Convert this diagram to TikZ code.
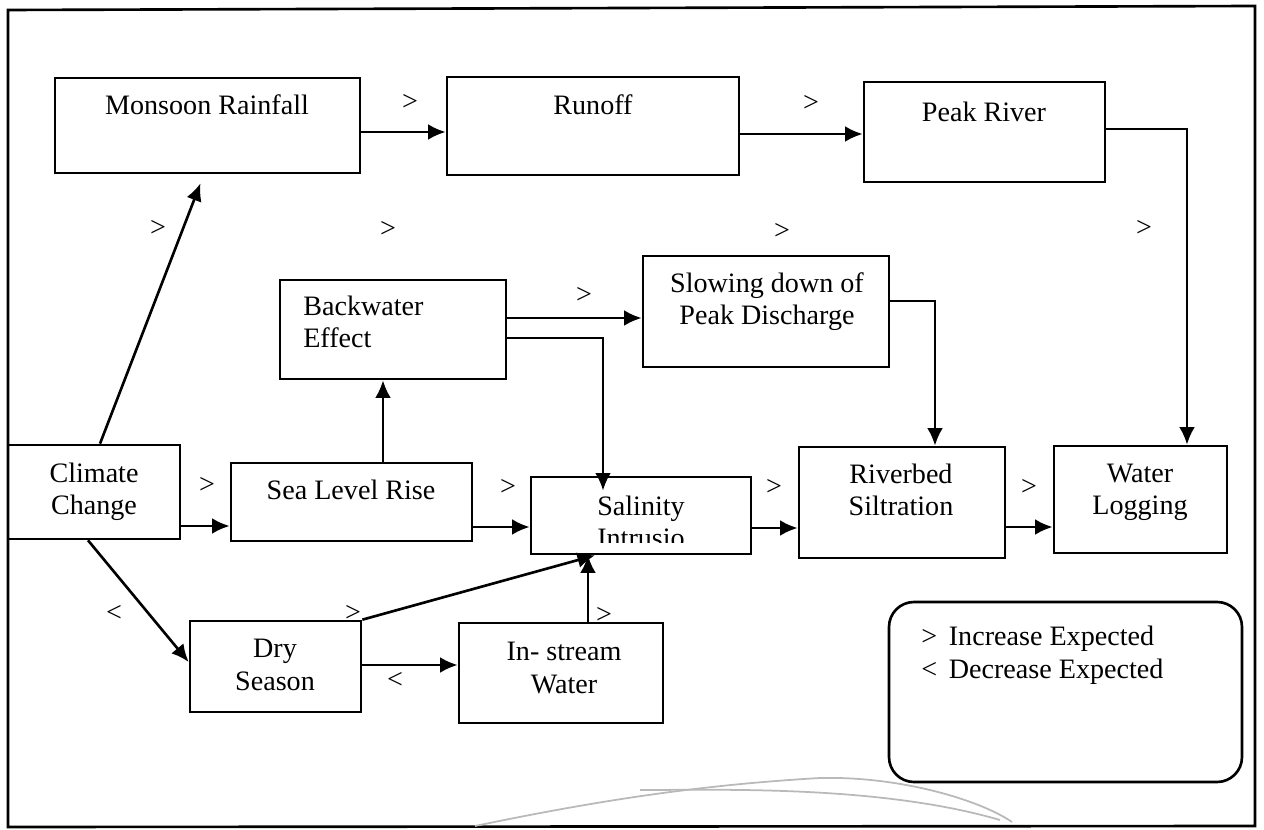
\documentclass[tikz,border=0pt]{standalone}
\usepackage{fontspec}
\setmainfont{Liberation Serif}
\usepackage{tikz}
\usetikzlibrary{arrows.meta,calc,fit}
\tikzset{>={Latex[length=10pt,width=9pt]}}

\begin{document}
\begin{tikzpicture}[x=0.02cm, y=-0.02cm, line width=1.5pt,
    box/.style = {draw, rectangle, inner sep=0pt},
    txt/.style = {font=\fontsize{16}{18.7}\selectfont, inner sep=0pt, align=center, anchor=base},
    sym/.style = {font=\fontsize{16}{18.7}\selectfont, inner sep=0pt}]
        \useasboundingbox (0,0) rectangle (1264,830);
        \draw (8,10) -- (1255,6) -- (1255,826) -- (8,827) -- cycle; %frame

        % boxes
        \node[box, fit={(55,78) (360,173)}] (rain) {};
        \node[box, fit={(447,77) (739,175)}] (runoff) {};
        \node[box, fit={(864,82) (1105,182)}] (peak) {};
        \node[box, fit={(280,280) (506,379)}] (back) {};
        \node[box, fit={(643,256) (889,367)}] (slow) {};
        \node[box, fit={(8,445) (180,539)}] (clim) {};
        \node[box, fit={(231,463) (472,541)}] (sea) {};
        \node[box, fit={(531,477) (751,554)}] (sal) {};
        \node[box, fit={(799,447) (1005,558)}] (bed) {};
        \node[box, fit={(1054,446) (1227,553)}] (log) {};
        \node[box, fit={(190,621) (361,712)}] (dry) {};
        \node[box, fit={(459,623) (663,723)}] (strm) {};
        \node[box, rounded corners=0.5cm, fit={(889,602) (1242,782)}] (key) {};

        % texts (base = last line)
        \node[txt] (rain-t) at (207,115) {Monsoon Rainfall};
        \node[txt] (runoff-t) at (593,115) {Runoff};
        \node[txt] (peak-t) at (984,122) {Peak River};
        \node[txt, anchor=base west, align=left] (back-t) at (302,348) {Backwater\\Effect};
        \node[txt] (slow-t) at (767,325) {Slowing down of\\Peak Discharge};
        \node[txt] (clim-t) at (94,515) {Climate\\Change};
        \node[txt] (sea-t) at (351,500) {Sea Level Rise};
        \begin{scope}
          \clip (531,477) rectangle (751,543);
          \node[txt] (sal-t) at (641,548) {Salinity\\Intrusio};
        \end{scope}
        \node[txt] (bed-t) at (901,516) {Riverbed\\Siltration};
        \node[txt] (log-t) at (1140,515) {Water\\Logging};
        \node[txt] (dry-t) at (275,690) {Dry\\Season};
        \node[txt] (strm-t) at (564,693) {In- stream\\Water};
        \node[txt, anchor=base west, align=left] (key-t) at (920,678) {>\, Increase Expected\\<\, Decrease Expected};

        % signs
        \node[sym] (g1) at (410,102) {>};
        \node[sym] (g2) at (811,103) {>};
        \node[sym] (g3) at (158,228) {>};
        \node[sym] (g4) at (388,229) {>};
        \node[sym] (g5) at (782,231) {>};
        \node[sym] (g6) at (1144,228) {>};
        \node[sym] (g7) at (584,295) {>};
        \node[sym] (g8) at (207,485) {>};
        \node[sym] (g9) at (508,487) {>};
        \node[sym] (g10) at (774,487) {>};
        \node[sym] (g11) at (1029,487) {>};
        \node[sym] (g12) at (114,613) {<};
        \node[sym] (g13) at (353,613) {>};
        \node[sym] (g14) at (395,680) {<};
        \node[sym] (g15) at (604,615) {>};

        % connectors
        \draw[->] ($(clim.north)+(6,0)$) -- ($(rain.south)+(-7,9)$);
        \draw[->] (rain.east |- 0,132) -- (runoff.west |- 0,132);
        \draw[->] (runoff.east |- 0,134) -- (peak.west |- 0,134);
        \draw[->] (peak.east |- 0,129) -| (1187,0 |- log.north);
        \draw[->] (383,0 |- sea.north) -- (383,0 |- back.south);
        \draw[->] (back.east |- 0,318) -- (slow.west |- 0,318);
        \draw[->, shorten >=-8.5pt] (back.east |- 0,338) -| (603,0 |- sal.north);
        \draw[->] (slow.east |- 0,301) -| (935,0 |- bed.north);
        \draw[->] (clim.east |- 0,526) -- (sea.west |- 0,526);
        \draw[->] (sea.east |- 0,527) -- (sal.west |- 0,527);
        \draw[->] (sal.east |- 0,528) -- (bed.west |- 0,528);
        \draw[->] (bed.east |- 0,527) -- (log.west |- 0,527);
        \draw[->] ($(clim.south)+(-6,0)$) -- (dry.west |- 0,662);
        \draw[->] (dry.north east) -- (595,0 |- sal.south);
        \draw[->] (dry.east |- 0,665) -- (strm.west |- 0,665);
        \draw[->] (588,0 |- strm.north) -- (588,0 |- sal.south);

        % pencil mark
        \draw[gray!55, line width=1pt] (475,826) .. controls (600,800) and (700,785) .. (820,778)
          .. controls (900,776) and (980,800) .. (1012,822);
        \draw[gray!55, line width=1pt] (640,790) .. controls (720,790) and (880,785) .. (1000,820);
\end{tikzpicture}
\end{document}
